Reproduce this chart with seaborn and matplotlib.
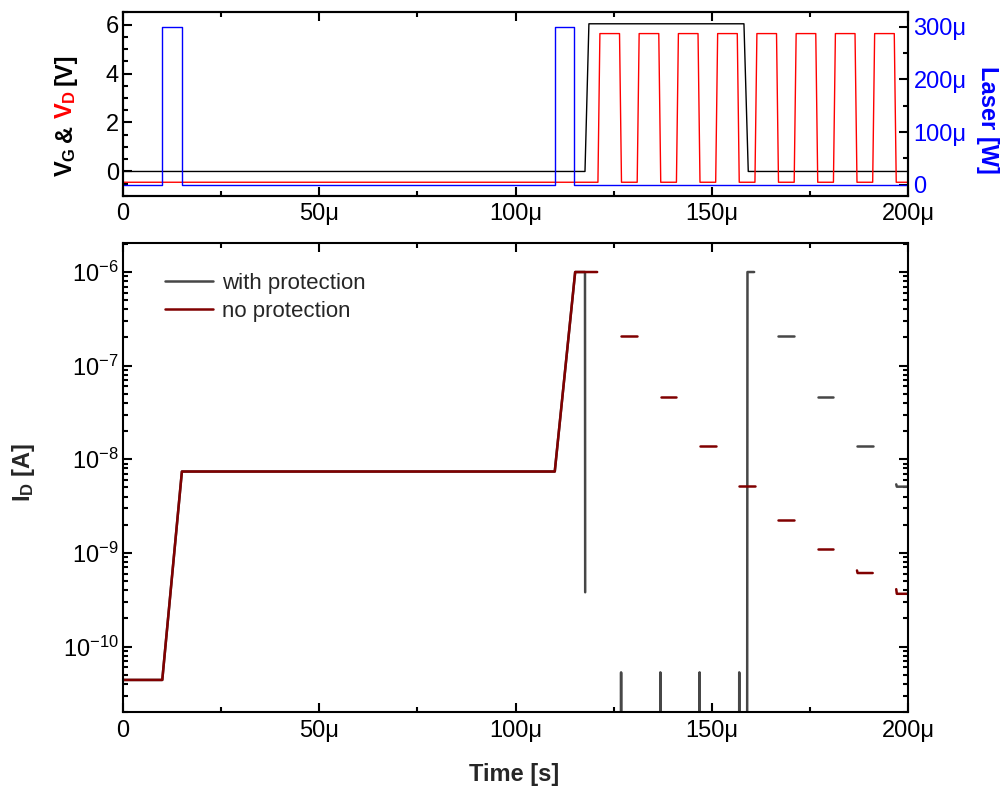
import matplotlib
matplotlib.use('Agg')
import pandas as pd
import matplotlib.pyplot as plt
import matplotlib.ticker as mticker
from matplotlib.lines import Line2D
import seaborn as sns

# ---------------- data (time in microseconds) ----------------
# top panel, gate voltage (black)
vg_t = [0, 117.7, 118.7, 158.2, 159.3, 200]
vg_v = [0, 0, 6.03, 6.03, 0, 0]

# drain voltage pulses (red): ramp up start / ramp down start
vd_rise = [121.0, 131.0, 141.0, 151.0, 161.0, 171.0, 181.0, 191.0]
vd_fall = [126.5, 136.5, 146.5, 156.5, 166.5, 176.5, 186.5, 196.5]
vd_low, vd_high, vd_ramp = -0.44, 5.63, 0.5

# laser pulses (blue, right axis, W)
laser_on = [10.0, 110.0]
laser_off = [15.0, 115.0]
laser_level = 300e-6

# bottom panel, drain current
ramp_t = [0, 10, 15, 110, 115.2]
ramp_i = [4.4e-11, 4.4e-11, 7.4e-9, 7.4e-9, 1.0e-6]

# with protection
prot_drop_t = [117.7, 117.75]
prot_drop_i = [1.0e-6, 3.8e-10]
prot_spike_t = [126.9, 136.9, 146.9, 157.0]
prot_spike_i = 5.3e-11
off_scale = 1e-12
prot_reset_t = [159.0, 159.1, 160.8]
prot_reset_i = [off_scale, 1.0e-6, 1.0e-6]
prot_step_start = [167.0, 177.0, 187.0, 197.0]
prot_step_end = [171.0, 181.0, 191.0, 200.0]
prot_step_first = [2.07e-7, 4.66e-8, 1.37e-8, 5.4e-9]
prot_step_level = [2.07e-7, 4.66e-8, 1.37e-8, 5.1e-9]

# no protection
noprot_hold_t = [120.8]
noprot_hold_i = [1.0e-6]
noprot_step_start = [127.0, 137.0, 147.0, 157.0, 167.0, 177.0, 187.0, 197.0]
noprot_step_end = [131.0, 141.0, 151.0, 161.0, 171.0, 181.0, 191.0, 200.0]
noprot_step_first = [2.09e-7, 4.66e-8, 1.37e-8, 5.17e-9, 2.24e-9, 1.1e-9, 6.5e-10, 4.1e-10]
noprot_step_level = [2.09e-7, 4.66e-8, 1.37e-8, 5.17e-9, 2.24e-9, 1.1e-9, 6.1e-10, 3.66e-10]

# ---------------- build tables ----------------
vd_t, vd_v = [0], [vd_low]
for r, f in zip(vd_rise, vd_fall):
    vd_t += [r, r + vd_ramp, f, f + vd_ramp]
    vd_v += [vd_low, vd_high, vd_high, vd_low]
vd_t.append(200)
vd_v.append(vd_low)

las_t, las_p = [0], [0]
for a, b in zip(laser_on, laser_off):
    las_t += [a, a, b, b]
    las_p += [0, laser_level, laser_level, 0]
las_t.append(200)
las_p.append(0)

top = pd.concat([
    pd.DataFrame({'t': vg_t, 'v': vg_v, 'sig': 'VG'}),
    pd.DataFrame({'t': vd_t, 'v': vd_v, 'sig': 'VD'}),
])
top['t'] = top['t'] * 1e-6
laser = pd.DataFrame({'t': [x * 1e-6 for x in las_t], 'p': las_p})

rows = []
def add(series, seg, ts, vals):
    for a, b in zip(ts, vals):
        rows.append((series, f'{series}-{seg}', a * 1e-6, b))

P, N = 'with protection', 'no protection'
add(P, 'main', ramp_t + prot_drop_t, ramp_i + prot_drop_i)
for k, s in enumerate(prot_spike_t):
    add(P, f'sp{k}', [s - 0.05, s, s + 0.05], [off_scale, prot_spike_i, off_scale])
add(P, 'reset', prot_reset_t, prot_reset_i)
for k in range(len(prot_step_start)):
    a, b = prot_step_start[k], prot_step_end[k]
    add(P, f'st{k}', [a, a + 0.15, b], [prot_step_first[k], prot_step_level[k], prot_step_level[k]])
add(N, 'main', ramp_t + noprot_hold_t, ramp_i + noprot_hold_i)
for k in range(len(noprot_step_start)):
    a, b = noprot_step_start[k], noprot_step_end[k]
    add(N, f'st{k}', [a, a + 0.15, b], [noprot_step_first[k], noprot_step_level[k], noprot_step_level[k]])
cur = pd.DataFrame(rows, columns=['series', 'seg', 't', 'i'])

# ---------------- style ----------------
sns.set_theme(style='ticks')
plt.rcParams['font.family'] = ['Liberation Sans', 'DejaVu Sans']
plt.rcParams.update({
    'mathtext.fontset': 'custom',
    'mathtext.rm': 'Liberation Sans',
    'mathtext.bf': 'Liberation Sans:bold',
    'mathtext.it': 'Liberation Sans:italic',
    'mathtext.sf': 'Liberation Sans',
    'axes.linewidth': 1.5,
    'axes.edgecolor': 'black',
    'xtick.color': 'black', 'ytick.color': 'black',
    'xtick.direction': 'in', 'ytick.direction': 'in',
    'xtick.major.size': 6.5, 'ytick.major.size': 6.5,
    'xtick.minor.size': 3.6, 'ytick.minor.size': 3.6,
    'xtick.major.width': 1.5, 'ytick.major.width': 1.5,
    'xtick.minor.width': 1.5, 'ytick.minor.width': 1.5,
    'xtick.labelsize': 17, 'ytick.labelsize': 17,
})

def micro(x, pos):
    if abs(x) < 1e-12:
        return '0'
    return f'{x * 1e6:g}μ'

fig = plt.figure(figsize=(10.01, 7.87), dpi=100)
ax1 = fig.add_axes([0.1229, 0.751, 0.7842, 0.2334])
ax2 = fig.add_axes([0.1229, 0.0953, 0.7842, 0.5959])

# ---- top panel ----
sns.lineplot(ax=ax1, data=top, x='t', y='v', hue='sig', palette={'VG': 'black', 'VD': '#ff0000'},
             estimator=None, sort=False, lw=1.0, legend=False)
ax1.set_xlim(0, 200e-6)
ax1.set_ylim(-1.0, 6.5)
ax1.xaxis.set_major_locator(mticker.MultipleLocator(50e-6))
ax1.xaxis.set_minor_locator(mticker.MultipleLocator(25e-6))
ax1.xaxis.set_major_formatter(mticker.FuncFormatter(micro))
ax1.yaxis.set_major_locator(mticker.MultipleLocator(2))
ax1.yaxis.set_minor_locator(mticker.MultipleLocator(0.5))
ax1.tick_params(axis='x', which='both', top=True, pad=5)
ax1.tick_params(axis='y', which='both', pad=3)
ax1.set_xlabel('')
ax1.set_ylabel('')

ax1r = ax1.twinx()
sns.lineplot(ax=ax1r, data=laser, x='t', y='p', color='#0000ff', estimator=None, sort=False, lw=1.0)
ax1r.set_ylim(-21e-6, 327e-6)
ax1r.yaxis.set_major_locator(mticker.MultipleLocator(100e-6))
ax1r.yaxis.set_minor_locator(mticker.MultipleLocator(50e-6))
ax1r.yaxis.set_major_formatter(mticker.FuncFormatter(micro))
ax1r.tick_params(axis='y', which='both', direction='in', labelcolor='#0000ff', pad=4)
ax1r.set_xlabel('')
ax1r.set_ylabel('')
for sp in ax1r.spines.values():
    sp.set_linewidth(1.5)

# ---- bottom panel ----
sns.lineplot(ax=ax2, data=cur, x='t', y='i', hue='series', units='seg',
             hue_order=[P, N], palette={P: '#474747', N: '#800000'},
             estimator=None, sort=False, lw=1.8, legend=False)
ax2.set_yscale('log')
ax2.set_xlim(0, 200e-6)
ax2.set_ylim(2.0e-11, 2.04e-6)
ax2.xaxis.set_major_locator(mticker.MultipleLocator(50e-6))
ax2.xaxis.set_minor_locator(mticker.MultipleLocator(25e-6))
ax2.xaxis.set_major_formatter(mticker.FuncFormatter(micro))
ax2.yaxis.set_major_locator(mticker.FixedLocator([1e-10, 1e-9, 1e-8, 1e-7, 1e-6]))
ax2.yaxis.set_minor_locator(mticker.LogLocator(base=10, subs=range(2, 10), numticks=20))
ax2.yaxis.set_minor_formatter(mticker.NullFormatter())
ax2.tick_params(axis='x', which='both', top=True, pad=6)
ax2.tick_params(axis='y', which='both', right=True, pad=3)
ax2.set_xlabel('')
ax2.set_ylabel('')

handles = [Line2D([], [], color='#474747', lw=1.8), Line2D([], [], color='#800000', lw=1.8)]
ax2.legend(handles, [P, N], loc='upper left', bbox_to_anchor=(0.0535, 0.936), frameon=False,
           fontsize=16, borderpad=0, borderaxespad=0, handlelength=2.15, handletextpad=0.4,
           labelspacing=0.32)

# ---- axis labels ----
fig.text(0.5135, 0.007, 'Time [s]', fontsize=17, fontweight='bold',
         ha='center', va='baseline')
fig.text(0.030, 0.40, r'$\mathbf{I_D}$ [A]', fontsize=17, fontweight='bold',
         rotation=90, rotation_mode='anchor', ha='center', va='baseline')
fig.text(981 / 1001, 0.8475, 'Laser [W]', fontsize=17, fontweight='bold', color='#0000ff',
         rotation=270, rotation_mode='anchor', ha='center', va='baseline')

# multicolour rotated label: V_G & V_D [V]
fig.canvas.draw()
renderer = fig.canvas.get_renderer()
pieces = [(r'$\mathbf{V_G}$', 'black'), ('&', 'black'), (r'$\mathbf{V_D}$', '#ff0000'), ('[V]', 'black')]
fh = fig.bbox.height
y = 0.775 * fh
gap = 5.5
for txt, col in pieces:
    t = fig.text(0.0719, y / fh, txt, fontsize=17, fontweight='bold', color=col,
                 rotation=90, rotation_mode='anchor', ha='left', va='baseline')
    bb = t.get_window_extent(renderer)
    y = bb.y1 + gap

fig.savefig('out.png', dpi=100)
